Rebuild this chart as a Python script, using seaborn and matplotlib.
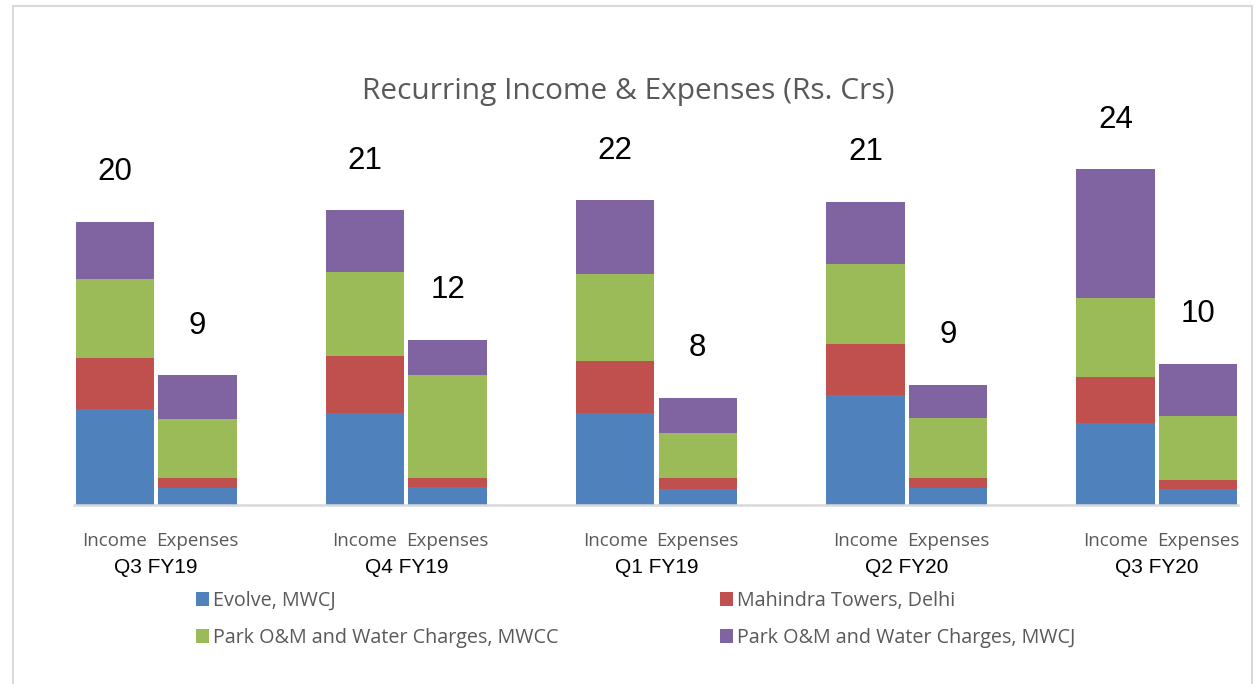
import pandas as pd
import numpy as np

import matplotlib
matplotlib.use('Agg')
import matplotlib.pyplot as plt
from matplotlib.patches import Patch, Rectangle
import seaborn as sns

#**************************************************Data*******************************************************

quarters = ['Q3 FY19', 'Q4 FY19', 'Q1 FY19', 'Q2 FY20', 'Q3 FY20']
kinds = ['Income', 'Expenses']

# segment values (Rs. Crs)
evolve_inc = [6.8, 6.5, 6.5, 7.8, 5.8]
evolve_exp = [1.2, 1.3, 1.1, 1.2, 1.1]
mahindra_inc = [3.6, 4.1, 3.7, 3.6, 3.3]
mahindra_exp = [0.7, 0.6, 0.8, 0.7, 0.7]
mwcc_inc = [5.6, 5.9, 6.2, 5.7, 5.6]
mwcc_exp = [4.2, 7.3, 3.2, 4.3, 4.5]
mwcj_inc = [4.1, 4.4, 5.2, 4.4, 9.1]
mwcj_exp = [3.1, 2.5, 2.5, 2.3, 3.7]

# totals as printed above the bars
income_total = [20, 21, 22, 21, 24]
expense_total = [9, 12, 8, 9, 10]

series = ['Evolve, MWCJ', 'Mahindra Towers, Delhi',
          'Park O&M and Water Charges, MWCC', 'Park O&M and Water Charges, MWCJ']
colors = ['#4F81BD', '#C0504D', '#9BBB59', '#8064A2']

#**************************************************Frame*******************************************************

df = pd.DataFrame({
    'quarter': quarters * 2,
    'kind': ['Income'] * 5 + ['Expenses'] * 5,
    series[0]: evolve_inc + evolve_exp,
    series[1]: mahindra_inc + mahindra_exp,
    series[2]: mwcc_inc + mwcc_exp,
    series[3]: mwcj_inc + mwcj_exp,
})

# running sums so the tallest gets drawn first, smaller ones on top
cum = df[series].cumsum(axis=1)

#**************************************************Plot*******************************************************

sns.set_style('white')
plt.rcParams['font.family'] = ['Open Sans', 'DejaVu Sans']

W, H = 1255, 684
fig = plt.figure(figsize=(W / 100, H / 100), dpi=100)

base_y = 505
px_per_unit = 14.1
ymax = 26
ax = fig.add_axes([74 / W, (H - base_y) / H, (1238 - 74) / W, ymax * px_per_unit / H])

for s, c in reversed(list(zip(series, colors))):
    plot_df = df[['quarter', 'kind']].copy()
    plot_df['value'] = cum[s]
    sns.barplot(data=plot_df, x='quarter', y='value', hue='kind', hue_order=kinds,
                order=quarters, palette=[c, c], saturation=1, width=0.66, gap=0.05,
                errorbar=None, legend=False, linewidth=0, ax=ax)

# total labels above each bar
for cont, tot in zip(ax.containers[:2], [income_total, expense_total]):
    ax.bar_label(cont, labels=[str(t) for t in tot], padding=25,
                 fontsize=22.5, family='Liberation Sans', color='black')

ax.set_xlim(-0.328, 4.324)
ax.set_ylim(0, ymax)
ax.set_xticks([])
ax.set_yticks([])
ax.set_xlabel('')
ax.set_ylabel('')
for side in ['top', 'left', 'right']:
    ax.spines[side].set_visible(False)
ax.spines['bottom'].set_color('#d9d9d9')
ax.spines['bottom'].set_linewidth(1.8)

# two-level category labels
for i, q in enumerate(quarters):
    for off, k in zip([-0.165, 0.165], kinds):
        ax.annotate(k, xy=(i + off, 0), xycoords=('data', 'axes fraction'),
                    xytext=(0, -26), textcoords='offset points',
                    ha='center', va='center', fontsize=13.5, color='#595959')
    ax.annotate(q, xy=(i, 0), xycoords=('data', 'axes fraction'),
                xytext=(0, -45), textcoords='offset points',
                ha='center', va='center', fontsize=15, family='Liberation Sans',
                color='black')

# title
fig.text(628 / W, 1 - 91 / H, 'Recurring Income & Expenses (Rs. Crs)',
         ha='center', va='center', fontsize=21.5, color='#595959')

# legend in two columns
handles = [Patch(facecolor=c, edgecolor='none') for c in colors]
for idx, x0 in [([0, 2], 196), ([1, 3], 720)]:
    fig.legend([handles[j] for j in idx], [series[j] for j in idx],
               loc='upper left', bbox_to_anchor=(x0 / W, 1 - 591 / H),
               frameon=False, fontsize=14.2, labelcolor='#595959',
               handlelength=0.68, handleheight=0.68, handletextpad=0.2,
               labelspacing=0.85, borderpad=0, borderaxespad=0)

# outer border
fig.add_artist(Rectangle((13 / W, -0.02), (1252 - 13) / W, 1.02 - 6 / H,
                         transform=fig.transFigure, fill=False,
                         edgecolor='#d9d9d9', linewidth=1.5))

fig.savefig('out.png', dpi=100)
